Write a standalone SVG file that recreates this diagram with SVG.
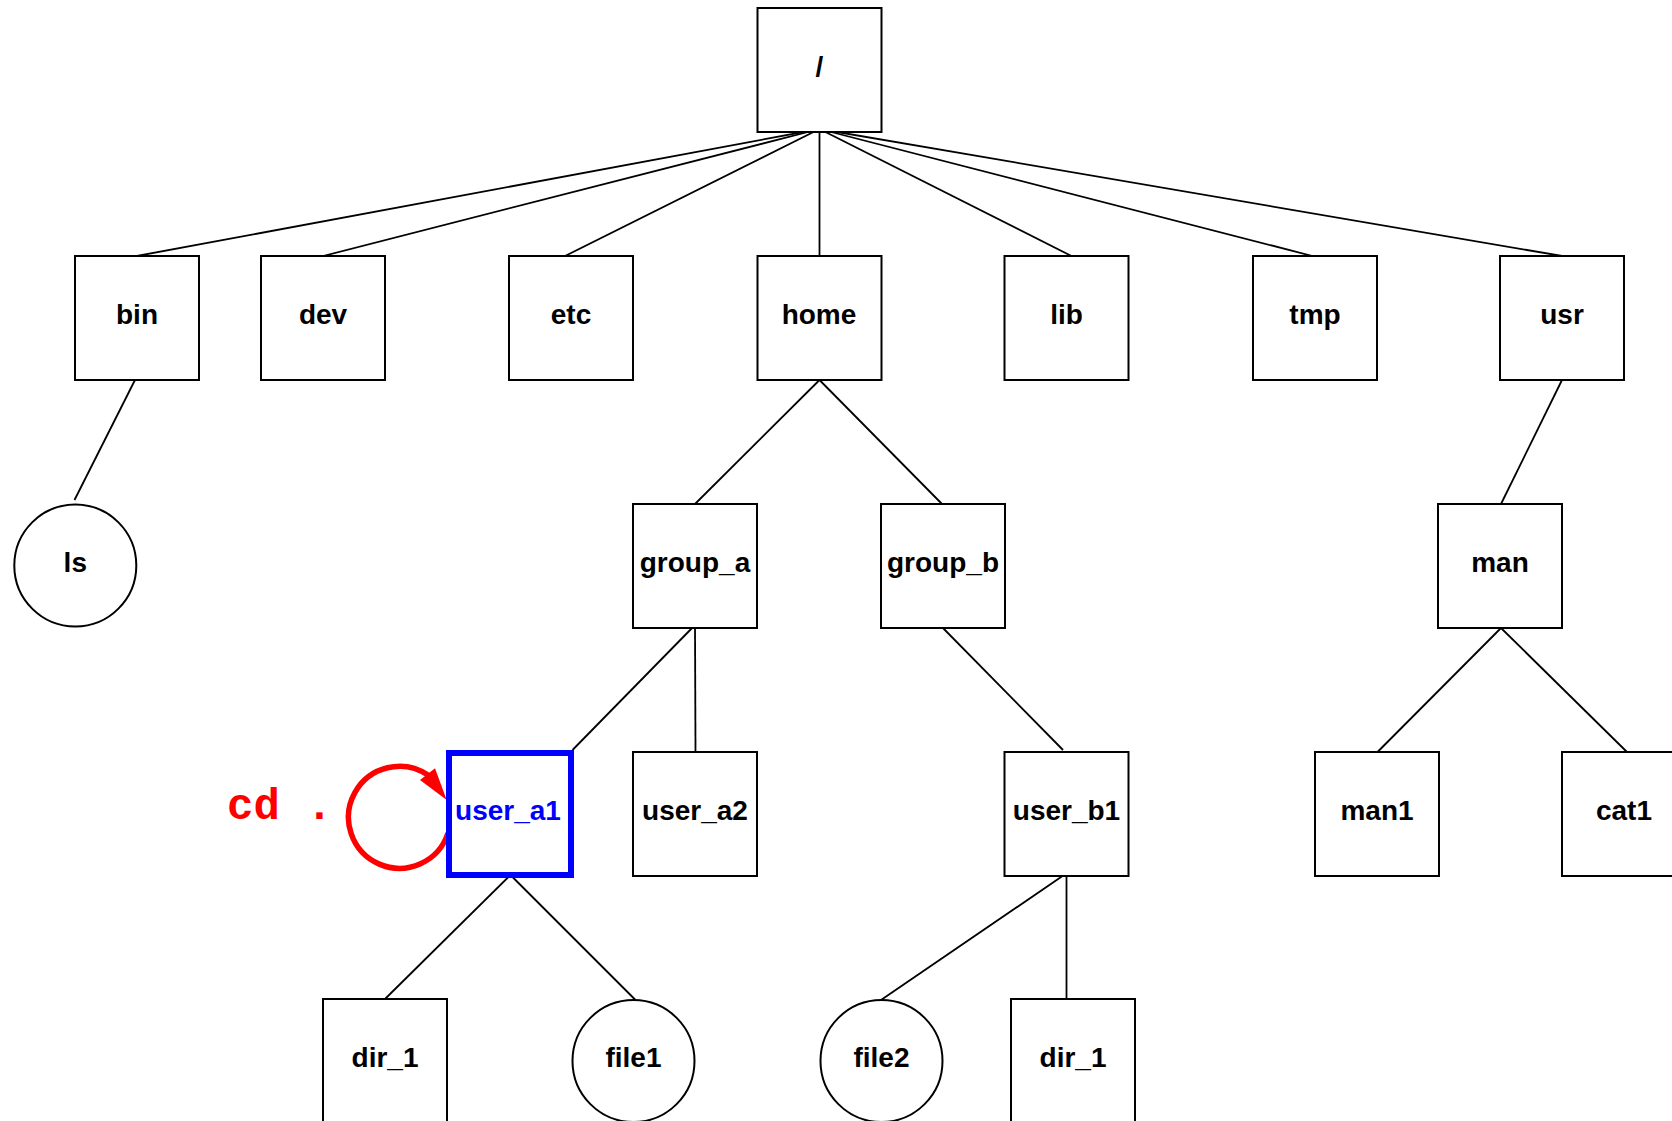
<svg xmlns="http://www.w3.org/2000/svg" width="1672" height="1121" viewBox="0 0 1672 1121">
  <style>
    .box { fill: #ffffff; stroke: #000000; stroke-width: 2; }
    .file { fill: #ffffff; stroke: #000000; stroke-width: 2; }
    .label { font-family: "Liberation Sans", Arial, sans-serif; font-weight: bold; font-size: 28px; fill: #000000; text-anchor: middle; }
    .edge { stroke: #000000; stroke-width: 1.8; fill: none; }
    .current { fill: #ffffff; stroke: #0000ff; stroke-width: 6; }
    .current-label { fill: #0000ff; }
    .loop { stroke: #ff0000; stroke-width: 5.5; fill: none; }
    .cmd { font-family: "Liberation Mono", "Courier New", monospace; font-weight: bold; font-size: 44px; fill: #ff0000; }
  </style>
  <rect width="1672" height="1121" fill="#ffffff"/>

  <!-- tree edges -->
  <g id="connectors">
    <line class="edge" x1="819.5" y1="129" x2="137" y2="256"/>
    <line class="edge" x1="819.5" y1="129" x2="323" y2="256"/>
    <line class="edge" x1="819.5" y1="129" x2="565" y2="256"/>
    <line class="edge" x1="819.5" y1="129" x2="819.5" y2="256"/>
    <line class="edge" x1="819.5" y1="129" x2="1071.5" y2="256"/>
    <line class="edge" x1="819.5" y1="129" x2="1312.5" y2="256"/>
    <line class="edge" x1="819.5" y1="129" x2="1562" y2="256"/>
    <line class="edge" x1="136.5" y1="377" x2="74.5" y2="500"/>
    <line class="edge" x1="819.5" y1="380" x2="695" y2="504"/>
    <line class="edge" x1="819.5" y1="380" x2="942" y2="504"/>
    <line class="edge" x1="1562" y1="380" x2="1501" y2="504"/>
    <line class="edge" x1="695" y1="625" x2="572.5" y2="750"/>
    <line class="edge" x1="695" y1="625" x2="695.5" y2="752"/>
    <line class="edge" x1="940" y1="625" x2="1063" y2="750"/>
    <line class="edge" x1="1501" y1="628" x2="1377.5" y2="752"/>
    <line class="edge" x1="1501" y1="628" x2="1627" y2="752"/>
    <line class="edge" x1="510.5" y1="875" x2="385" y2="999"/>
    <line class="edge" x1="510.5" y1="875" x2="635.5" y2="1000"/>
    <line class="edge" x1="1064" y1="875" x2="881" y2="1000"/>
    <line class="edge" x1="1066.5" y1="875" x2="1066.5" y2="999"/>
    <!-- "cd ." self loop on the working directory -->
    <path class="loop" d="M 448 833 A 51 51 0 1 1 428 775"/>
    <polygon points="446.7,800 420,780 435,768.3" fill="#ff0000"/>
  </g>

  <g id="root"><rect class="box" x="757.5" y="8" width="124" height="124"/><text class="label" x="819.5" y="75.5">/</text></g>

  <g id="bin"><rect class="box" x="75" y="256" width="124" height="124"/><text class="label" x="137" y="323.5">bin</text></g>
  <g id="dev"><rect class="box" x="261" y="256" width="124" height="124"/><text class="label" x="323" y="323.5">dev</text></g>
  <g id="etc"><rect class="box" x="509" y="256" width="124" height="124"/><text class="label" x="571" y="323.5">etc</text></g>
  <g id="home"><rect class="box" x="757.5" y="256" width="124" height="124"/><text class="label" x="819" y="323.5">home</text></g>
  <g id="lib"><rect class="box" x="1004.5" y="256" width="124" height="124"/><text class="label" x="1066.5" y="323.5">lib</text></g>
  <g id="tmp"><rect class="box" x="1253" y="256" width="124" height="124"/><text class="label" x="1315" y="323.5">tmp</text></g>
  <g id="usr"><rect class="box" x="1500" y="256" width="124" height="124"/><text class="label" x="1562" y="323.5">usr</text></g>

  <g id="ls"><circle class="file" cx="75.3" cy="565.5" r="61"/><text class="label" x="75.3" y="571.5">ls</text></g>
  <g id="group_a"><rect class="box" x="633" y="504" width="124" height="124"/><text class="label" x="695" y="571.5">group_a</text></g>
  <g id="group_b"><rect class="box" x="881" y="504" width="124" height="124"/><text class="label" x="943" y="571.5">group_b</text></g>
  <g id="man"><rect class="box" x="1438" y="504" width="124" height="124"/><text class="label" x="1500" y="571.5">man</text></g>

  <g id="user_a1"><rect class="current" x="449" y="753" width="122" height="122"/><text class="label current-label" x="508" y="819.5">user_a1</text></g>
  <g id="user_a2"><rect class="box" x="633" y="752" width="124" height="124"/><text class="label" x="695" y="819.5">user_a2</text></g>
  <g id="user_b1"><rect class="box" x="1004.5" y="752" width="124" height="124"/><text class="label" x="1066.5" y="819.5">user_b1</text></g>
  <g id="man1"><rect class="box" x="1315" y="752" width="124" height="124"/><text class="label" x="1377" y="819.5">man1</text></g>
  <g id="cat1"><rect class="box" x="1562" y="752" width="124" height="124"/><text class="label" x="1624" y="819.5">cat1</text></g>

  <g id="dir_1_a"><rect class="box" x="323" y="999" width="124" height="124"/><text class="label" x="385" y="1066.5">dir_1</text></g>
  <g id="file1"><circle class="file" cx="633.5" cy="1061" r="61"/><text class="label" x="633.5" y="1066.5">file1</text></g>
  <g id="file2"><circle class="file" cx="881.5" cy="1061" r="61"/><text class="label" x="881.5" y="1066.5">file2</text></g>
  <g id="dir_1_b"><rect class="box" x="1011" y="999" width="124" height="124"/><text class="label" x="1073" y="1066.5">dir_1</text></g>

  <g id="cd_command"><text class="cmd" x="227" y="819" xml:space="preserve">cd .</text></g>
</svg>
